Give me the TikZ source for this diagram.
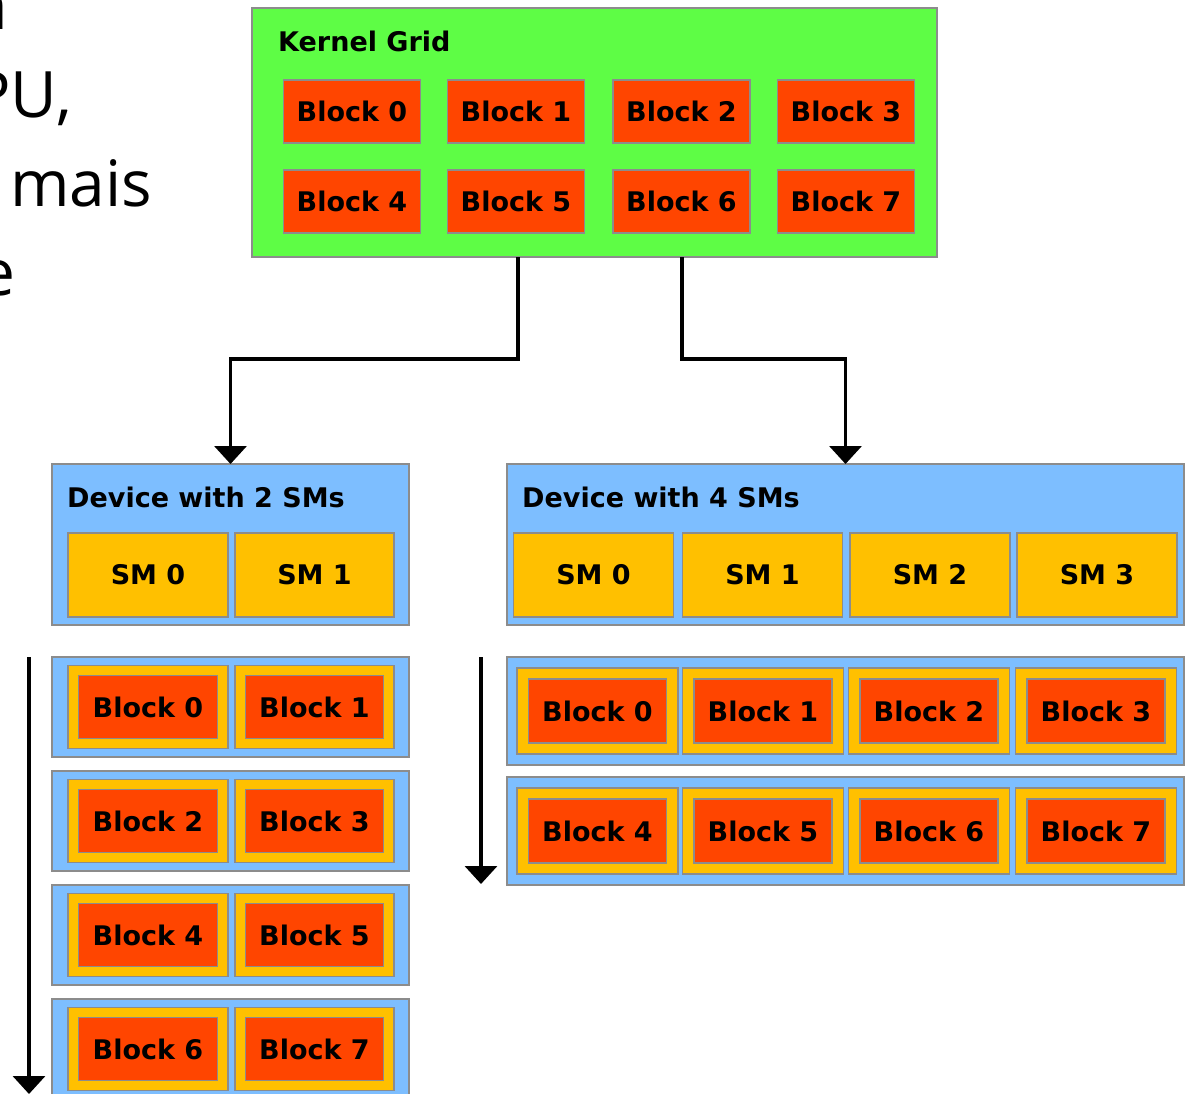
\documentclass[tikz,border=0pt]{standalone}
\usepackage{fontspec}
\setmainfont{DejaVu Sans}
\newfontfamily\handfont{Open Sans}
\usetikzlibrary{arrows.meta}
\definecolor{gridgreen}{HTML}{5EFD45}
\definecolor{blockred}{HTML}{FF4500}
\definecolor{smyellow}{HTML}{FFC000}
\definecolor{devblue}{HTML}{7DBEFF}
\definecolor{edgegray}{HTML}{8C8C8C}
\tikzset{
  box/.style={draw=edgegray, line width=1.3pt, inner sep=0pt, outer sep=0pt},
  gridbox/.style={box, fill=gridgreen, minimum width=685pt, minimum height=249pt},
  devbox/.style={box, fill=devblue, minimum height=161pt},
  rowbox/.style={box, fill=devblue},
  smcell/.style={box, fill=smyellow, font=\bfseries\fontsize{27}{30}\selectfont},
  blk/.style={box, fill=blockred, minimum width=137pt, minimum height=63pt,
              font=\bfseries\fontsize{27}{30}\selectfont},
  title/.style={anchor=base west, inner sep=0pt, font=\bfseries\fontsize{27}{30}\selectfont},
  frag/.style={inner sep=0pt, font=\handfont\fontsize{64}{80}\selectfont},
  conn/.style={line width=3.5pt, -{Triangle[width=32pt,length=18pt]}},
}
\begin{document}
\begin{tikzpicture}[x=1pt, y=-1pt]
\useasboundingbox (0,0) rectangle (1191,1094);
\fill[white] (0,0) rectangle (1191,1094);

% slide text running in from the left
\node[frag, anchor=base east] (fa) at (8,30) {da};
\node[frag, anchor=base east] (fb) at (72,118) {GPU,};
\node[frag, anchor=base west] (fc) at (10,207) {mais};
\node[frag, anchor=base east] (fd) at (16,295) {de};

% kernel grid
\node[gridbox] (grid) at (594.5,132.5) {};
\node[title] (gridt) at (278,52) {Kernel Grid};
\foreach \i/\x/\y in {0/352/111.5, 1/516/111.5, 2/681.5/111.5, 3/846/111.5,
                      4/352/201.5, 5/516/201.5, 6/681.5/201.5, 7/846/201.5}
  \node[blk] (k\i) at (\x,\y) {Block \i};

% device with 2 SMs
\node[devbox, minimum width=357pt] (d2) at (230.5,544.5) {};
\node[title] (d2t) at (67,507) {Device with 2 SMs};
\node[smcell, minimum width=160pt, minimum height=84pt] (d2s0) at (148,575) {SM 0};
\node[smcell, minimum width=159pt, minimum height=84pt] (d2s1) at (314.5,575) {SM 1};

% device with 4 SMs
\node[devbox, minimum width=677pt] (d4) at (845.5,544.5) {};
\node[title] (d4t) at (522,507) {Device with 4 SMs};
\foreach \i/\x in {0/593.5, 1/762.5, 2/930, 3/1097}
  \node[smcell, minimum width=160pt, minimum height=84pt] (d4s\i) at (\x,575) {SM \i};

% kernel grid mapped onto the devices
\draw[conn] ([xshift=-76.5pt]grid.south) -- ++(0,102) -| (d2.north);
\draw[conn] ([xshift=87.5pt]grid.south) -- ++(0,102) -| (d4.north);

% schedule on the 2-SM device
\foreach \r/\y/\a/\b in {0/707/0/1, 1/821/2/3, 2/935/4/5, 3/1049/6/7} {
  \node[rowbox, minimum width=357pt, minimum height=100pt] (lr\r) at (230.5,\y) {};
  \node[box, fill=smyellow, minimum width=160pt, minimum height=83pt] (ly\r a) at (148,\y) {};
  \node[box, fill=smyellow, minimum width=159pt, minimum height=83pt] (ly\r b) at (314.5,\y) {};
  \node[blk, minimum width=139pt] (lb\a) at (148,\y) {Block \a};
  \node[blk, minimum width=138pt] (lb\b) at (314.5,\y) {Block \b};
}
\coordinate (lt0) at (29,657);
\coordinate (lt1) at (29,1094);
\draw[conn] (lt0) -- (lt1);

% schedule on the 4-SM device
\foreach \r/\y/\o in {0/711/0, 1/831/4} {
  \node[rowbox, minimum width=677pt, minimum height=108pt] (rr\r) at (845.5,\y) {};
  \foreach \c/\x in {0/597.5, 1/763, 2/929, 3/1096} {
    \pgfmathtruncatemacro{\n}{\o+\c}
    \node[box, fill=smyellow, minimum width=161pt, minimum height=86pt] (ry\n) at (\x,\y) {};
    \node[blk, minimum width=138pt, minimum height=64pt] (rb\n) at (\x,\y) {Block \n};
  }
}
\coordinate (rt0) at (481,657);
\coordinate (rt1) at (481,884);
\draw[conn] (rt0) -- (rt1);
\end{tikzpicture}
\end{document}
